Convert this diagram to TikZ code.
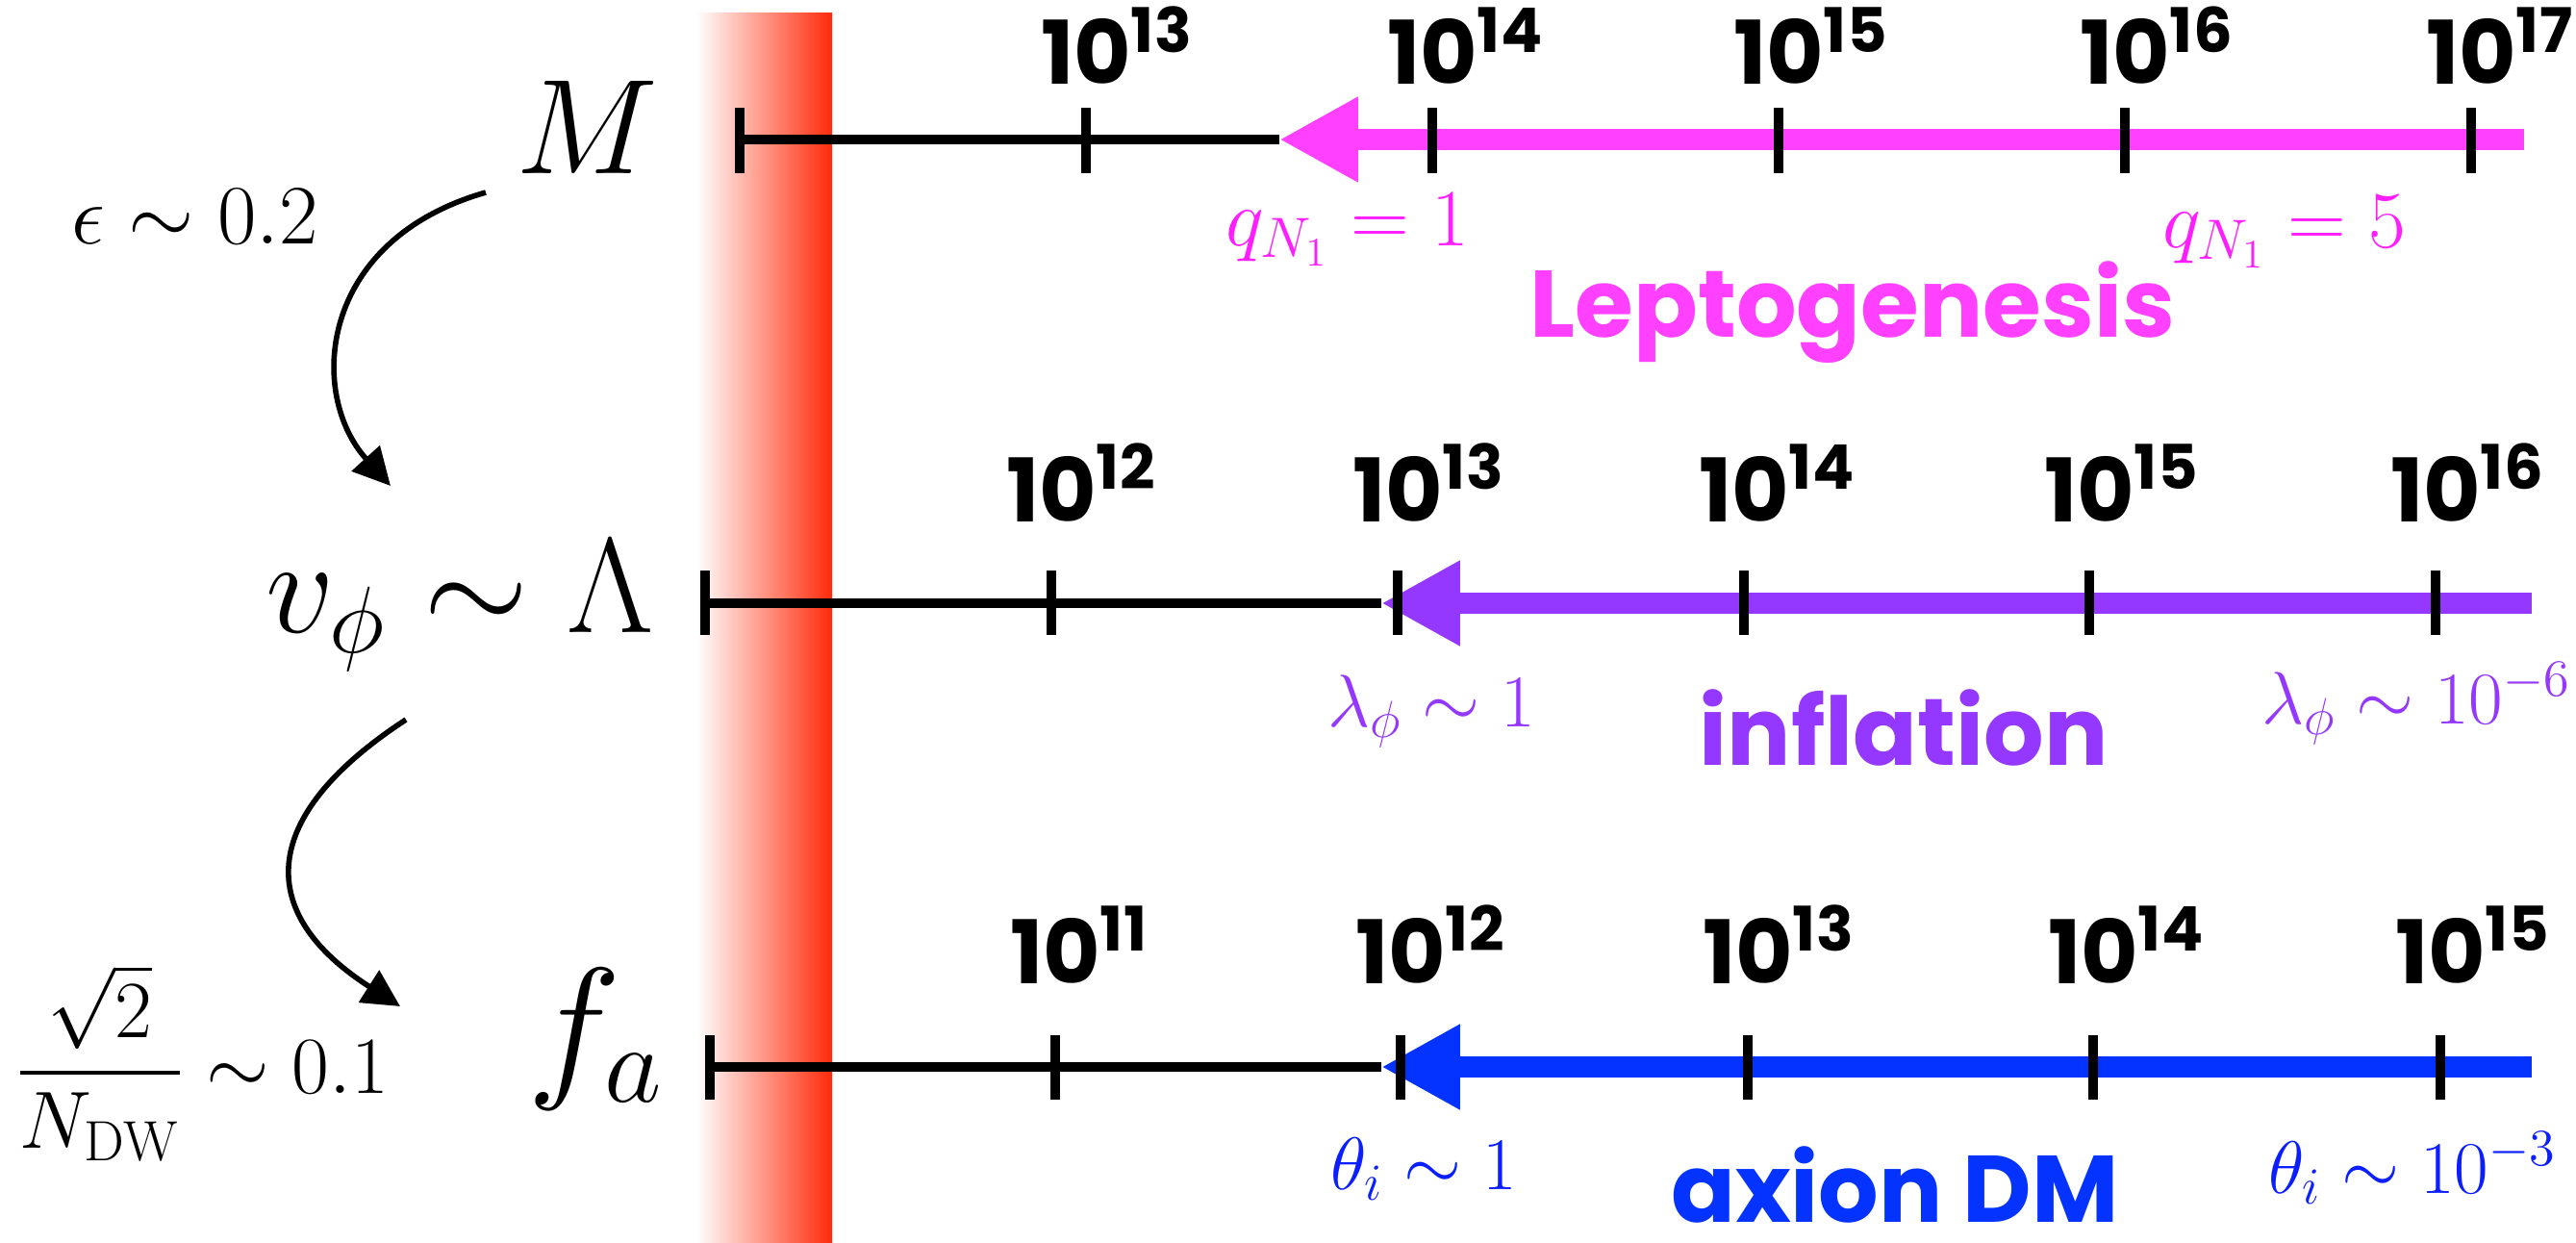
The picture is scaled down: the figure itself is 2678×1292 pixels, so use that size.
\RequirePackage{fix-cm}
\documentclass[tikz,border=0pt]{standalone}
\usepackage{amsmath,amssymb}
\usepackage{fontspec}
\usetikzlibrary{positioning,arrows.meta}
\newfontfamily\chalk{Poppins}
\definecolor{lepto}{HTML}{FF40FF}
\definecolor{leptotxt}{HTML}{FF1EFF}
\definecolor{infl}{HTML}{9437FF}
\definecolor{axdm}{HTML}{0433FF}
\definecolor{axtxt}{HTML}{0A1EFF}
\definecolor{bandred}{HTML}{FF2A0A}
\newcommand{\pw}[1]{10\rlap{\textsuperscript{#1}}}

\begin{document}
\begin{tikzpicture}[x=0.1mm,y=-0.1mm,
  scalelab/.style={inner sep=0pt,font=\fontsize{40}{48}\selectfont},
  ticklab/.style={inner sep=0pt,anchor=base,font=\chalk\bfseries\fontsize{26}{30}\selectfont},
  coup/.style={inner sep=0pt,anchor=base,font=\fontsize{22}{26}\selectfont},
  topic/.style={inner sep=0pt,anchor=base,font=\chalk\bfseries\fontsize{28}{32}\selectfont},
  axisline/.style={line width=2.85pt},
  tickmark/.style={line width=3.1pt},
  rangearrow/.style={line width=6pt,-{Triangle[length=23.3pt,width=23.6pt]}},
  flow/.style={line width=1.6pt,-{Triangle[length=11pt,width=11pt]}}]
\useasboundingbox (0,0) rectangle (2678,1292);
\shade[left color=white,right color=bandred] (724,13) rectangle (865,1292);

\node[scalelab,anchor=base east] (Mlab) at (685,180) {$M$};
\coordinate (m0) at (769,145); \coordinate (mtip) at (1330,145); \coordinate (m1) at (2624,145);
\draw[axisline] (m0) -- (mtip);
\draw[rangearrow,lepto] (m1) -- (mtip);
\draw[tickmark] (769,112) -- (769,180);
\foreach \x/\e in {1129/13,1489/14,1849/15,2209/16,2569/17}{
  \draw[tickmark] (\x,112) -- (\x,180);
  \node[ticklab] at (\x,88) {\pw{\e}};
}
\node[coup,leptotxt,font=\fontsize{24}{28}\selectfont] (q1) at (1401,255) {$q_{N_1}=1$};
\node[coup,leptotxt,font=\fontsize{24}{28}\selectfont] (q5) at (2375,257) {$q_{N_1}=5$};
\node[topic,lepto] (lep) at (1926,350) {Leptogenesis};

\node[scalelab,anchor=base east] (vlab) at (680,657) {$v_\phi\sim\Lambda$};
\coordinate (v0) at (733,627); \coordinate (vtip) at (1436,627); \coordinate (v1) at (2632,627);
\draw[axisline] (v0) -- (vtip);
\draw[rangearrow,infl] (v1) -- (vtip);
\draw[tickmark] (733,593) -- (733,660);
\foreach \x/\e in {1093/12,1453/13,1813/14,2172/15,2532/16}{
  \draw[tickmark] (\x,593) -- (\x,660);
  \node[ticklab] at (\x,542) {\pw{\e}};
}
\node[coup,infl] (l1) at (1488,755) {$\lambda_\phi\sim1$};
\node[coup,infl] (l6) at (2512,752) {$\lambda_\phi\sim10^{-6}$};
\node[topic,infl] (inf) at (1979,795) {inflation};

\node[scalelab,anchor=base east,font=\fontsize{47}{56}\selectfont] (flab) at (690,1121) {$f_a$};
\coordinate (f0) at (738,1109); \coordinate (ftip) at (1436,1109); \coordinate (f1) at (2632,1109);
\draw[axisline] (f0) -- (ftip);
\draw[rangearrow,axdm] (f1) -- (ftip);
\draw[tickmark] (738,1076) -- (738,1143);
\foreach \x/\e in {1097/11,1456/12,1817/13,2176/14,2537/15}{
  \draw[tickmark] (\x,1076) -- (\x,1143);
  \node[ticklab] at (\x,1022) {\pw{\e}};
}
\node[coup,axtxt] (t1) at (1480,1236) {$\theta_i\sim1$};
\node[coup,axtxt] (t3) at (2508,1240) {$\theta_i\sim10^{-3}$};
\node[topic,axdm] (adm) at (1970,1270) {axion DM};

\node[inner sep=0pt,anchor=base west,font=\fontsize{25}{30}\selectfont] (eps) at (74,253) {$\epsilon\sim0.2$};
\node[inner sep=0pt,anchor=base west,font=\fontsize{24}{29}\selectfont] (ndw) at (16,1136) {$\dfrac{\sqrt{2}}{N_{\mathrm{DW}}}\sim0.1$};
\coordinate (c1a) at (505,200); \coordinate (c1b) at (406,505);
\coordinate (c2a) at (422,748); \coordinate (c2b) at (416,1046);
\draw[flow] (c1a) .. controls (330,250) and (320,410) .. (c1b);
\draw[flow] (c2a) .. controls (266,850) and (266,950) .. (c2b);
\end{tikzpicture}
\end{document}
